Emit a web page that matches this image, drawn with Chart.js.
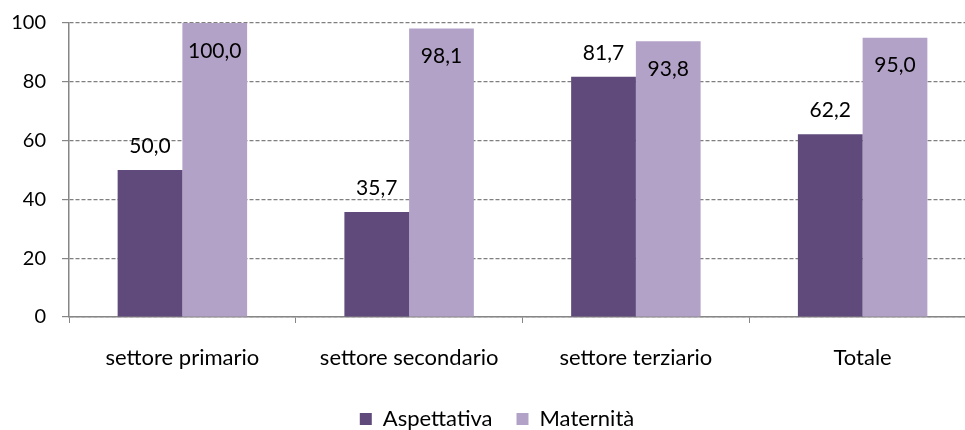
<!DOCTYPE html>
<html>
<head>
<meta charset="utf-8">
<script src="https://cdn.jsdelivr.net/npm/chart.js@4/dist/chart.umd.min.js"></script>
<style>
  html, body { margin: 0; padding: 0; background: #fff; overflow: hidden; }
  #wrap { width: 994px; height: 444px; position: relative; }
</style>
</head>
<body>
<div id="wrap"><canvas id="chart"></canvas></div>
<script>
const categories = ['settore primario', 'settore secondario', 'settore terziario', 'Totale'];
const aspettativa = [50.0, 35.7, 81.7, 62.2];
const maternita = [100.0, 98.1, 93.8, 95.0];
const yTicks = [0, 20, 40, 60, 80, 100];

const axisGrey = '#868686';
Chart.defaults.font.family = 'Lato, "Open Sans", sans-serif';
Chart.defaults.color = '#000';

// labels: first series above the bar, second series inside the top
const barValues = {
    id: 'barValues',
    afterDatasetsDraw(chart) {
        const ctx = chart.ctx;
        ctx.save();
        ctx.font = '21px Lato, "Open Sans", sans-serif';
        ctx.fillStyle = '#000';
        ctx.textAlign = 'center';
        ctx.textBaseline = 'middle';
        chart.data.datasets.forEach((ds, di) => {
            chart.getDatasetMeta(di).data.forEach((bar, i) => {
                const txt = ds.data[i].toFixed(1).replace('.', ',');
                const y = di === 0 ? bar.y - 24 : bar.y + 28;
                ctx.fillText(txt, bar.x, y);
            });
        });
        ctx.restore();
    }
};

// centre the legend on the whole canvas, not on the padded box
const legendShift = {
    id: 'legendShift',
    afterLayout(chart) {
        const shift = chart.options.layout.padding.right / 2;
        chart.legend.left += shift;
        chart.legend.right += shift;
    }
};

new Chart(document.getElementById('chart'), {
    type: 'bar',
    plugins: [barValues, legendShift],
    data: {
        labels: categories,
        datasets: [
            {
                label: 'Aspettativa',
                data: aspettativa,
                backgroundColor: '#604A7B',
                borderWidth: 0
            },
            {
                label: 'Maternità',
                data: maternita,
                backgroundColor: '#B3A2C7',
                borderWidth: 0
            }
        ]
    },
    options: {
        responsive: true,
        maintainAspectRatio: false,
        animation: false,
        events: [],
        layout: {
            padding: { top: 23, right: 18, left: 0, bottom: 4 }
        },
        datasets: {
            bar: { categoryPercentage: 0.571, barPercentage: 1 }
        },
        scales: {
            x: {
                grid: {
                    display: true,
                    drawOnChartArea: false,
                    drawTicks: true,
                    tickLength: 6,
                    tickColor: axisGrey,
                    offset: true
                },
                border: { display: true, color: axisGrey, width: 1.5 },
                ticks: {
                    padding: 22,
                    font: { size: 22 },
                    color: '#000',
                    maxRotation: 0
                },
                afterFit(scale) {
                    scale.height = 67;
                    scale.paddingLeft = 0;
                    scale.paddingRight = 0;
                }
            },
            y: {
                min: 0,
                max: 100,
                afterBuildTicks(scale) {
                    scale.ticks = yTicks.map(v => ({ value: v }));
                },
                grid: {
                    color: '#7f7f7f',
                    lineWidth: 1.2,
                    tickLength: 7,
                    tickColor: axisGrey,
                    drawTicks: true
                },
                border: { display: true, color: axisGrey, width: 1.5, dash: [4, 2] },
                ticks: {
                    padding: 16,
                    font: { size: 20 },
                    color: '#000'
                },
                afterFit(scale) {
                    scale.width = 69;
                    scale.paddingTop = 0;
                    scale.paddingBottom = 0;
                }
            }
        },
        plugins: {
            legend: {
                position: 'bottom',
                labels: {
                    boxWidth: 12,
                    boxHeight: 12,
                    padding: 24,
                    font: { size: 22 },
                    color: '#000'
                }
            },
            tooltip: { enabled: false }
        }
    }
});
</script>
</body>
</html>
